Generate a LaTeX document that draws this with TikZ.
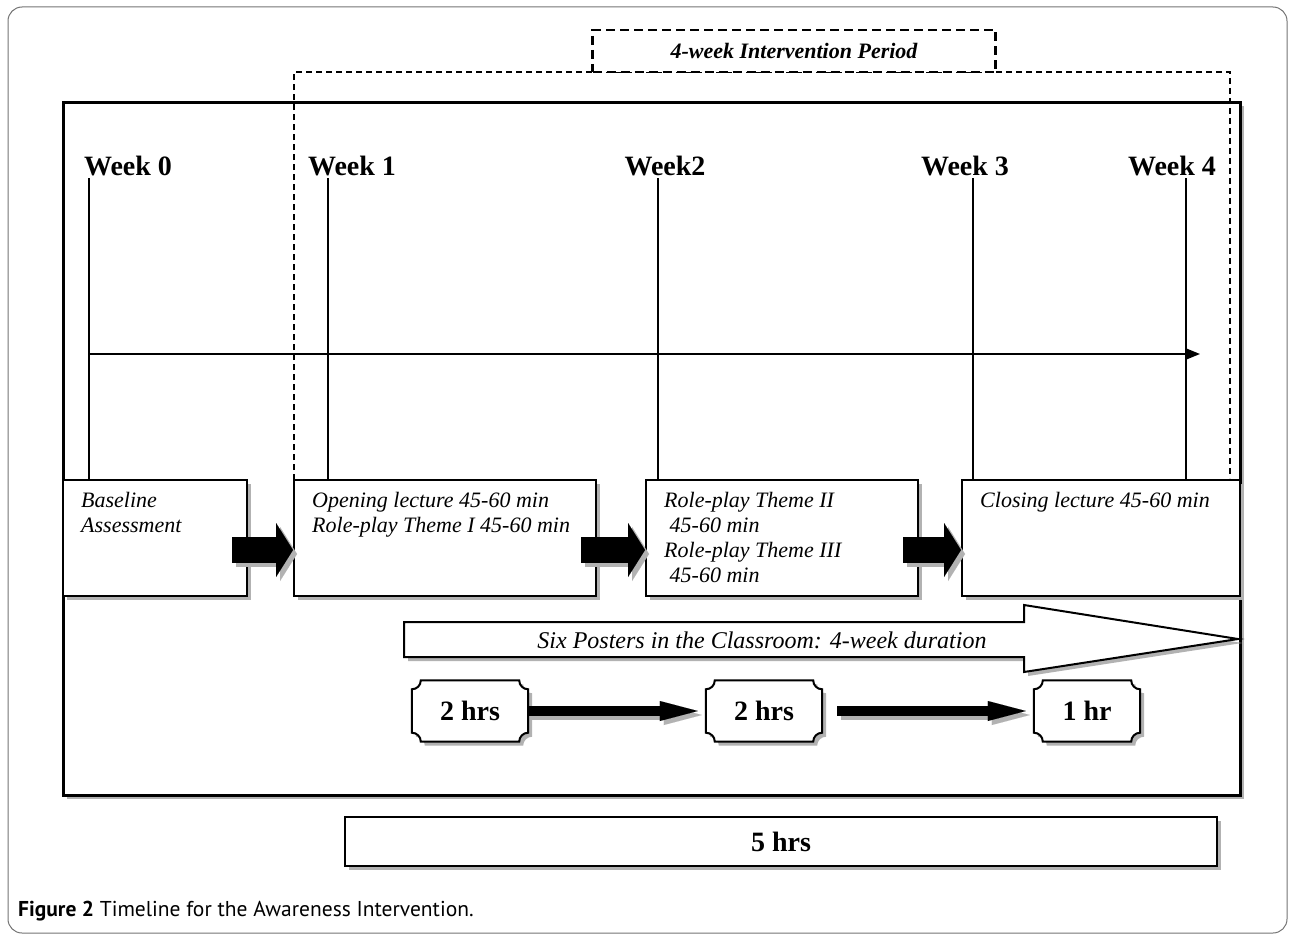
\documentclass[tikz,border=0pt]{standalone}
\usepackage{fontspec}
\setmainfont{Liberation Serif}
\newfontfamily\capfont{PT Sans}
\usetikzlibrary{arrows.meta,calc,shadows}

% plaque with hollow corners round a node
\newcommand\plaqueoutline[2][]{%
  \path[#1] ($(#2.north west)+(0,9)$) .. controls ($(#2.north west)+(5,9)$) and ($(#2.north west)+(9,5)$) .. ($(#2.north west)+(9,0)$)
    -- ($(#2.north east)+(-9,0)$) .. controls ($(#2.north east)+(-9,5)$) and ($(#2.north east)+(-5,9)$) .. ($(#2.north east)+(0,9)$)
    -- ($(#2.south east)+(0,-9)$) .. controls ($(#2.south east)+(-5,-9)$) and ($(#2.south east)+(-9,-5)$) .. ($(#2.south east)+(-9,0)$)
    -- ($(#2.south west)+(9,0)$) .. controls ($(#2.south west)+(9,-5)$) and ($(#2.south west)+(5,-9)$) .. ($(#2.south west)+(0,-9)$)
    -- cycle;}

\begin{document}
\begin{tikzpicture}[x=1pt, y=-1pt,
    dropped/.style={drop shadow={shadow xshift=4pt, shadow yshift=-4pt, fill=black!30, opacity=1}},
    mainframe/.style={draw, fill=white, line width=3pt, dropped},
    periodline/.style={line width=1.5pt, dash pattern=on 6pt off 4pt},
    periodbox/.style={draw, fill=white, line width=2.5pt, dash pattern=on 9pt off 5pt,
      minimum width=403pt, minimum height=42pt, font=\fontsize{22}{26}\selectfont\bfseries\itshape},
    weeklabel/.style={anchor=base, inner sep=0pt, font=\fontsize{28}{32}\selectfont\bfseries},
    weekline/.style={line width=1.4pt},
    timeline/.style={line width=1.6pt, -{Triangle[length=14pt, width=11pt]}},
    stage/.style={draw, fill=white, line width=2pt, minimum height=116pt, dropped},
    stagenote/.style={anchor=north west, align=left, inner sep=0pt, xshift=19pt, yshift=-13pt,
      font=\fontsize{22}{25}\selectfont\itshape},
    stagearrow/.style={line width=26pt, -{Triangle[length=17pt, width=54pt, line width=0.01pt]}},
    shadowcopy/.style={black!30, transform canvas={shift={(4pt,-4pt)}}},
    posterarrow/.style={draw, fill=white, line width=2pt, dropped},
    postertext/.style={font=\fontsize{24}{28}\selectfont\itshape},
    plaque/.style={minimum height=61pt, inner sep=0pt},
    plaqueline/.style={draw, fill=white, line width=2pt},
    hrs/.style={font=\fontsize{28}{32}\selectfont\bfseries},
    hrsarrow/.style={line width=10pt, -{Triangle[length=38pt, width=20pt, line width=0.01pt]}},
    totalbox/.style={draw, fill=white, line width=2.5pt, minimum width=872pt, minimum height=49pt,
      dropped, font=\fontsize{28}{32}\selectfont\bfseries},
  ]
  \useasboundingbox (0,0) rectangle (1291,934);
  \draw[black!55, line width=1pt, rounded corners=14pt] (8,7) rectangle (1287,933);

  \path[mainframe] (63,102) rectangle (1240,795);
  \draw[periodline] (294,480) -- (294,72) -- (1230,72) -- (1230,478);
  \node[periodbox] (period) at (794,51) {4-week Intervention Period};

  % the four stages
  \node[stage, minimum width=184pt] (base) at (155,538) {};
  \node[stage, minimum width=302pt] (open) at (445,538) {};
  \node[stage, minimum width=272pt] (roles) at (782,538) {};
  \node[stage, minimum width=278pt] (close) at (1101,538) {};

  \foreach \n/\lx/\tx/\b/\lbl in {w0/128/89/base/Week 0, w1/352/328/open/Week 1,
      w2/665/658/roles/Week2, w3/965/973/close/Week 3, w4/1172/1186/close/Week 4} {
    \node[weeklabel] (\n) at (\lx,175) {\lbl};
    \coordinate (t\n) at (\tx,178);
    \draw[weekline] (t\n) -- (t\n |- \b.north);
  }

  \coordinate (tstart) at (89,354);
  \coordinate (tend) at (1200,354);
  \draw[timeline] (tstart) -- (tend);

  \node[stagenote] at (base.north west) {Baseline\\Assessment};
  \node[stagenote] at (open.north west) {Opening lecture 45-60 min\\Role-play Theme I 45-60 min};
  \node[stagenote] at (roles.north west) {Role-play Theme II\\~45-60 min\\Role-play Theme III\\~45-60 min};
  \node[stagenote] at (close.north west) {Closing lecture 45-60 min};

  \foreach \a/\b in {base/open, open/roles, roles/close} {
    \draw[stagearrow, shadowcopy] ($(\a.east)+(-16,12)$) -- ($(\b.west)+(0,12)$);
    \draw[stagearrow] ($(\a.east)+(-16,12)$) -- ($(\b.west)+(0,12)$);
  }

  % posters
  \path[posterarrow] (404,622) -- (1024,622) -- (1024,605) -- (1238,639)
    -- (1024,672) -- (1024,657) -- (404,657) -- cycle;
  \node[postertext] (posters) at (762,640) {Six Posters in the Classroom: 4-week duration};

  % hours
  \foreach \n/\x/\w/\lbl in {h1/470/116/2 hrs, h2/764/116/2 hrs, h3/1087/106/1 hr} {
    \node[plaque, minimum width=\w pt] (\n) at (\x,711) {};
    \plaqueoutline[shadowcopy, fill]{\n}
    \plaqueoutline[plaqueline]{\n}
    \node[hrs] at (\n) {\lbl};
  }
  \draw[hrsarrow, shadowcopy, shorten >=8pt] (h1.east) -- (h2.west);
  \draw[hrsarrow, shorten >=8pt] (h1.east) -- (h2.west);
  \draw[hrsarrow, shadowcopy, shorten <=15pt, shorten >=8pt] (h2.east) -- (h3.west);
  \draw[hrsarrow, shorten <=15pt, shorten >=8pt] (h2.east) -- (h3.west);

  \node[totalbox] (total) at (781,841.5) {5 hrs};

  \node[anchor=base west, inner sep=0pt, font=\capfont\fontsize{21.5}{24}\selectfont] (caption)
    at (18,916) {\textbf{Figure 2} Timeline for the Awareness Intervention.};
\end{tikzpicture}
\end{document}
